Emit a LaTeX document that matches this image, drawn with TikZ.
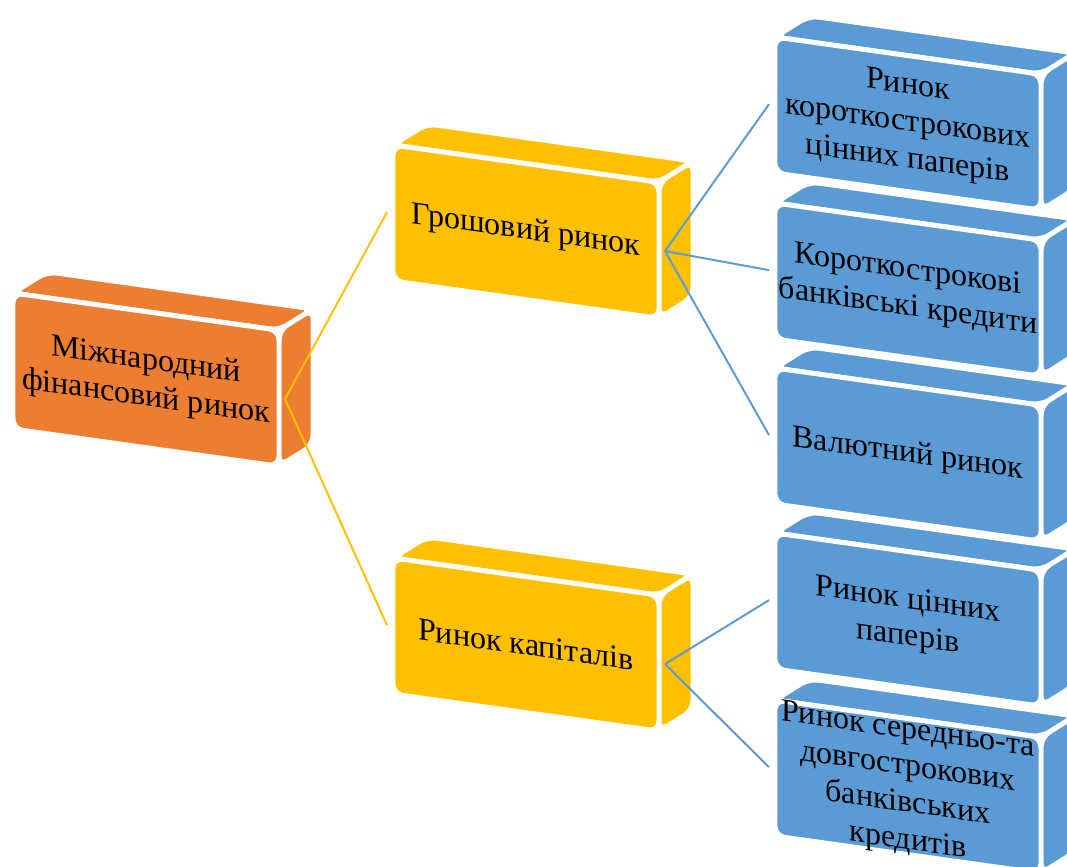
\documentclass[tikz,border=0pt]{standalone}
\usepackage{fontspec}
\setmainfont{Liberation Serif}
\definecolor{orng}{HTML}{ED7D31}
\definecolor{ylw}{HTML}{FFC000}
\definecolor{blu}{HTML}{5B9BD5}

% one 3d block: name, x, y, colour, text
\newcommand{\blok}[5]{%
  \begin{scope}[shift={(#2,#3)}, yslant=-0.14]
    \path[fill=#4, face] (0,0) -- (34,-26) -- (300,-26) -- (266,0) -- cycle;
    \path[fill=#4, face] (266,0) -- (300,-26) -- (300,110) -- (266,136) -- cycle;
    \path[fill=#4, face] (0,0) rectangle (266,136);
    \node[lbl] (#1) at (133,68) {#5};
    \coordinate (#1-in) at (-6,68);
    \coordinate (#1-out) at (272,68);
  \end{scope}}

\begin{document}
\begin{tikzpicture}[x=0.025cm, y=-0.025cm,
    face/.style={draw=white, line width=3.5pt, rounded corners=7pt},
    lbl/.style={transform shape, align=center, inner sep=0pt,
      font=\fontsize{22.8}{26.3}\selectfont},
    link/.style={line width=1.4pt}]
  \clip (0,0) rectangle (1067,867);

  \blok{mif}{13}{293}{orng}{Міжнародний\\фінансовий ринок}

  \blok{gr}{393}{145}{ylw}{Грошовий ринок}
  \blok{kap}{393}{558}{ylw}{Ринок капіталів}

  \blok{kcp}{775}{37}{blu}{Ринок\\короткострокових\\цінних паперів}
  \blok{kbk}{775}{203}{blu}{Короткострокові\\банківські кредити}
  \blok{val}{775}{368}{blu}{Валютний ринок}
  \blok{cp}{775}{533}{blu}{Ринок цінних\\паперів}
  \blok{dbk}{775}{700}{blu}{Ринок середньо-та\\довгострокових\\банківських\\кредитів}

  \draw[link, ylw] (mif-out) -- (gr-in);
  \draw[link, ylw] (mif-out) -- (kap-in);
  \draw[link, blu] (gr-out) -- (kcp-in);
  \draw[link, blu] (gr-out) -- (kbk-in);
  \draw[link, blu] (gr-out) -- (val-in);
  \draw[link, blu] (kap-out) -- (cp-in);
  \draw[link, blu] (kap-out) -- (dbk-in);
\end{tikzpicture}
\end{document}
